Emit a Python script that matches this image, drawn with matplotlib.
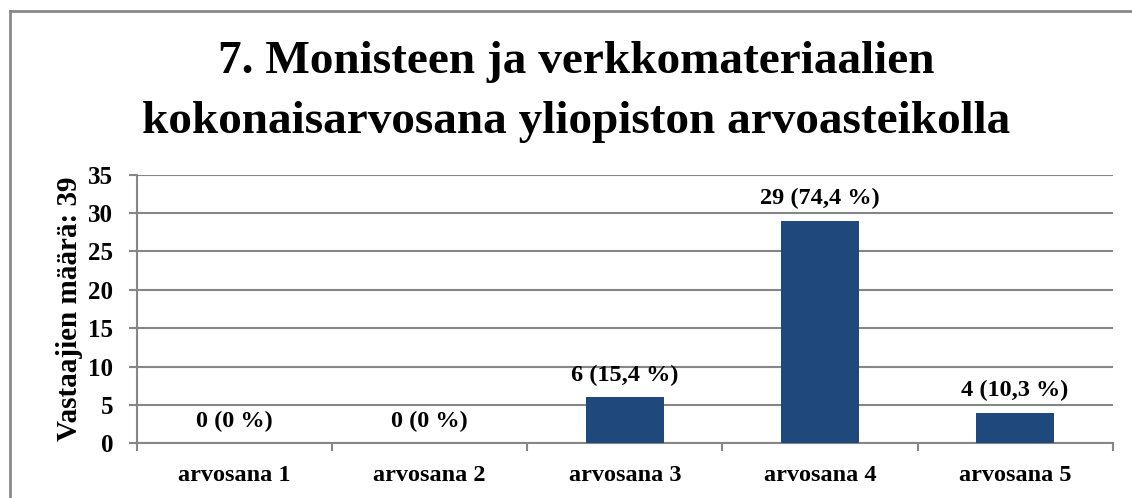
import numpy as np
import matplotlib
matplotlib.use('Agg')
from matplotlib import pyplot as plt
from matplotlib.lines import Line2D

plt.rcParams['font.family'] = ['Liberation Serif', 'DejaVu Serif']
plt.rcParams['font.weight'] = 'bold'

categories = ['arvosana 1', 'arvosana 2', 'arvosana 3', 'arvosana 4', 'arvosana 5']
counts = [0, 0, 6, 29, 4]
labels = ['0 (0 %)', '0 (0 %)', '6 (15,4 %)', '29 (74,4 %)', '4 (10,3 %)']
yticks = [0, 5, 10, 15, 20, 25, 30, 35]
title_lines = ['7. Monisteen ja verkkomateriaalien',
               'kokonaisarvosana yliopiston arvoasteikolla']
ylabel = 'Vastaajien määrä: 39'

grid_col = '#868686'
bar_col = '#1f497d'

fig = plt.figure(figsize=(11.32, 4.98), dpi=100)
ax = fig.add_axes([0.121, 0.110, 0.862, 0.539])

x = np.arange(len(categories))
ax.bar(x, counts, width=0.4, color=bar_col, zorder=3)

for xi, c, lab in zip(x, counts, labels):
    ax.annotate(lab, (xi, c), xytext=(0, 12), textcoords='offset points',
                ha='center', va='baseline', fontsize=17.5, fontweight='bold')

ax.set_xlim(-0.5, len(categories) - 0.5)
ax.set_ylim(0, 35)
ax.set_yticks(yticks)
ax.set_xticks(x)
ax.set_xticklabels(categories)
ax.set_xticks(np.arange(len(categories) + 1) - 0.5, minor=True)

ax.yaxis.grid(True, color=grid_col, linewidth=1.5, zorder=0)
ax.tick_params(axis='y', length=6, width=1.5, color=grid_col, pad=11, labelsize=18)
ax.tick_params(axis='x', which='major', length=0, pad=16, labelsize=17.5)
ax.tick_params(axis='x', which='minor', length=6, width=1.5, color=grid_col)

for s in ['top', 'right']:
    ax.spines[s].set_visible(False)
for s in ['left', 'bottom']:
    ax.spines[s].set_color(grid_col)
    ax.spines[s].set_linewidth(1.5)

ax.set_ylabel(ylabel, fontsize=21, fontweight='bold', labelpad=4)

for yy, line in zip([1 - 73 / 498, 1 - 133 / 498], title_lines):
    fig.text(0.509, yy, line, ha='center', va='baseline', fontsize=34,
             fontweight='bold')

# chart frame (left and top edges only are inside the picture)
fx = 10 / 1132
fy = 1 - 11.5 / 498
fig.lines.append(Line2D([fx, fx], [-0.1, fy], transform=fig.transFigure,
                        color='#898989', linewidth=2))
fig.lines.append(Line2D([fx, 1.1], [fy, fy], transform=fig.transFigure,
                        color='#898989', linewidth=2))

fig.savefig('out.png', dpi=100)
